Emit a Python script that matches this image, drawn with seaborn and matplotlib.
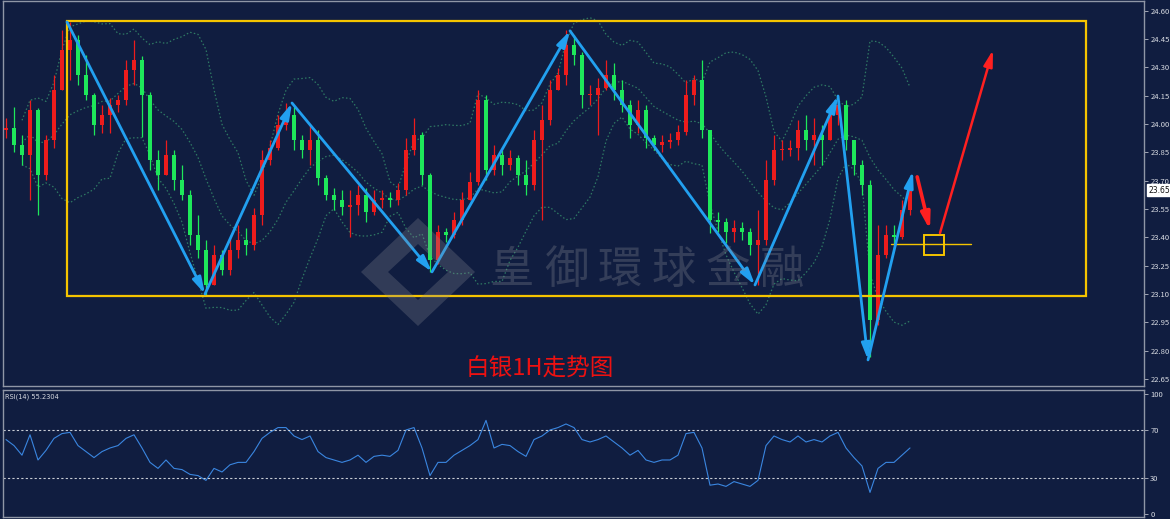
import numpy as np
import pandas as pd
import matplotlib
matplotlib.use("Agg")
import matplotlib.pyplot as plt
import matplotlib.transforms as mtransforms
from matplotlib.path import Path
from matplotlib.patches import PathPatch, Rectangle
import seaborn as sns

sns.set_theme(style="dark")
plt.rcParams["font.family"] = ["Noto Sans CJK SC", "DejaVu Sans"]
plt.rcParams["axes.unicode_minus"] = False

# ---------------- data ----------------
first_open = 23.968
closes = [23.979, 23.889, 23.836, 24.074, 23.730, 23.915, 24.180, 24.392, 24.445, 24.260,
          24.154, 23.995, 24.048, 24.101, 24.127, 24.286, 24.339, 24.154, 23.810, 23.730,
          23.836, 23.704, 23.624, 23.413, 23.333, 23.148, 23.307, 23.227, 23.333, 23.386,
          23.360, 23.519, 23.810, 23.873, 23.995, 24.048, 23.915, 23.863, 23.915, 23.714,
          23.624, 23.598, 23.561, 23.571, 23.624, 23.534, 23.598, 23.608, 23.598, 23.651,
          23.863, 23.942, 23.730, 23.280, 23.428, 23.413, 23.492, 23.598, 23.693, 24.127,
          23.757, 23.836, 23.783, 23.820, 23.730, 23.677, 23.915, 24.021, 24.180, 24.260,
          24.418, 24.365, 24.154, 24.154, 24.191, 24.260, 24.180, 24.101, 23.995, 24.074,
          23.926, 23.889, 23.905, 23.915, 23.958, 24.154, 24.233, 23.968, 23.492, 23.481,
          23.428, 23.450, 23.428, 23.360, 23.386, 23.704, 23.863, 23.863, 23.873, 23.968,
          23.915, 23.942, 23.915, 24.048, 24.101, 23.915, 23.783, 23.677, 22.963, 23.307,
          23.413, 23.400, 23.545, 23.651]
highs = [24.032, 24.090, 23.942, 24.127, 24.085, 23.942, 24.260, 24.498, 24.540, 24.471,
         24.365, 24.165, 24.101, 24.138, 24.154, 24.339, 24.445, 24.360, 24.170, 23.863,
         23.915, 23.863, 23.783, 23.651, 23.519, 23.386, 23.360, 23.333, 23.397, 23.466,
         23.450, 23.556, 23.863, 23.915, 24.048, 24.111, 24.090, 23.942, 23.995, 23.968,
         23.730, 23.661, 23.651, 23.651, 23.677, 23.661, 23.651, 23.651, 23.640, 23.688,
         23.926, 24.032, 23.960, 23.741, 23.466, 23.450, 23.534, 23.640, 23.746, 24.180,
         24.154, 23.889, 23.863, 23.863, 23.836, 23.810, 23.968, 24.101, 24.233, 24.297,
         24.498, 24.471, 24.380, 24.207, 24.244, 24.339, 24.323, 24.233, 24.127, 24.127,
         24.101, 23.942, 23.942, 23.953, 23.995, 24.233, 24.260, 24.339, 23.968, 23.534,
         23.503, 23.492, 23.481, 23.450, 23.545, 23.810, 23.942, 23.915, 23.915, 24.021,
         24.048, 24.032, 23.995, 24.101, 24.148, 24.127, 23.915, 23.810, 23.704, 23.466,
         23.466, 23.466, 23.598, 23.704]
lows = [23.926, 23.852, 23.783, 23.598, 23.519, 23.704, 23.873, 24.180, 24.233, 24.207,
        24.127, 23.942, 23.953, 23.953, 24.064, 24.101, 24.207, 23.931, 23.757, 23.651,
        23.730, 23.651, 23.598, 23.360, 23.291, 23.095, 23.148, 23.201, 23.201, 23.291,
        23.307, 23.333, 23.466, 23.783, 23.863, 23.968, 23.863, 23.820, 23.783, 23.677,
        23.598, 23.545, 23.519, 23.402, 23.519, 23.481, 23.520, 23.556, 23.561, 23.571,
        23.624, 23.836, 23.677, 23.217, 23.260, 23.376, 23.397, 23.466, 23.598, 23.677,
        23.704, 23.730, 23.730, 23.757, 23.677, 23.624, 23.651, 23.492, 23.995, 24.180,
        24.207, 24.313, 24.085, 24.101, 23.942, 24.180, 24.127, 24.064, 23.926, 23.953,
        23.873, 23.863, 23.852, 23.873, 23.889, 23.942, 24.101, 23.926, 23.423, 23.428,
        23.370, 23.376, 23.386, 23.307, 23.148, 23.360, 23.677, 23.810, 23.831, 23.810,
        23.863, 23.783, 23.783, 23.915, 23.995, 23.863, 23.730, 23.624, 22.767, 22.936,
        23.291, 23.360, 23.390, 23.519]
rsi_values = [62, 57, 49, 66, 45, 53, 63, 67, 68, 57, 52, 47, 52, 55, 57, 63, 66, 55, 43, 38,
              45, 38, 37, 33, 32, 28, 38, 35, 41, 43, 43, 52, 63, 68, 72, 72, 65, 62, 65, 52,
              47, 45, 43, 45, 49, 43, 48, 49, 48, 53, 70, 72, 55, 32, 43, 43, 49, 53, 57, 62,
              78, 55, 58, 57, 52, 48, 62, 65, 70, 72, 75, 72, 62, 60, 62, 65, 60, 55, 49, 53,
              45, 43, 45, 45, 49, 67, 68, 55, 24, 25, 23, 27, 25, 23, 28, 57, 65, 62, 60, 65,
              60, 62, 60, 65, 68, 55, 47, 40, 18, 38, 43, 43, 49, 55]

price_ticks = [22.65, 22.80, 22.95, 23.10, 23.25, 23.40, 23.55, 23.70, 23.85,
               24.00, 24.15, 24.30, 24.45, 24.60]
rsi_ticks = [0, 30, 70, 100]
rsi_levels = [30, 70]
last_price = 23.65
rsi_label = "RSI(14) 55.2304"
title_text = "白银1H走势图"
watermark = "皇御環球金融"

# analyst drawings (candle index, price)
zigzag_x = [7.625, 24.875, 35.75, 53.25, 70.5, 93.625, 104.0, 107.75, 113.375]
zigzag_y = [24.540, 23.100, 24.111, 23.217, 24.493, 23.148, 24.148, 22.751, 23.751]
forecast_x = [(113.9, 115.5), (116.75, 123.375)]
forecast_y = [(23.720, 23.439), (23.423, 24.392)]
range_x = (7.625, 135.0)
range_y = (23.090, 24.545)
target_x = (114.75, 117.25)
target_y = (23.307, 23.413)
support_x = (110.6, 120.6)
support_y = 23.365

# ---------------- style ----------------
BG = "#101d40"
UP = "#ee1c1c"
DOWN = "#1ee85a"
BAND = "#2f7a64"
BLUE = "#22a0f0"
RED = "#ff2020"
YEL = "#f5c400"
SPINE = "#8f96a6"
TXT = "#d8dbe2"

W, H = 1170, 519
fig = plt.figure(figsize=(W / 100, H / 100), dpi=100, facecolor=BG)
ax = fig.add_axes([3 / W, 1 - 386 / H, 1141 / W, 385 / H])
axr = fig.add_axes([3 / W, 2 / H, 1141 / W, 127 / H])

for a in (ax, axr):
    a.set_facecolor(BG)
    a.grid(False)
    for s in a.spines.values():
        s.set_color(SPINE)
        s.set_linewidth(1.0)
        s.set_visible(True)
    a.set_xlim(-0.375, 142.25)
    a.tick_params(axis="x", bottom=False, labelbottom=False)
    a.yaxis.tick_right()
    a.tick_params(axis="y", right=True, left=False, direction="out", length=3,
                  width=0.6, color="#b8bcc6", labelsize=5.5, labelcolor=TXT, pad=1.5)

# ---------------- candles ----------------
n = len(closes)
df = pd.DataFrame({"idx": np.arange(n), "close": closes, "high": highs, "low": lows})
df["open"] = [first_open] + closes[:-1]
up = df["close"] >= df["open"]
cols = np.where(up, UP, DOWN)
ax.vlines(df["idx"], df["low"], df["high"], colors=cols, lw=0.9, zorder=3)
body = (df["close"] - df["open"]).abs().clip(lower=0.004)
ax.bar(df["idx"], body, bottom=np.minimum(df["open"], df["close"]), width=0.45,
       color=cols, linewidth=0, zorder=3)

# Bollinger bands
mid = df["close"].rolling(10, min_periods=3).mean()
sd = df["close"].rolling(10, min_periods=3).std(ddof=0)
for line in (mid, mid + 2 * sd, mid - 2 * sd):
    sns.lineplot(x=df["idx"], y=line, ax=ax, color=BAND, lw=0.9,
                 linestyle=(0, (1.2, 1.8)), zorder=2)

ax.set_ylim(22.613, 24.651)
ax.set_yticks(price_ticks)
ax.set_yticklabels([f"{v:.2f}" for v in price_ticks])
ax.set_xlabel("")
ax.set_ylabel("")

# range box
ax.add_patch(Rectangle((range_x[0], range_y[0]), range_x[1] - range_x[0],
                       range_y[1] - range_y[0], fill=False, ec=YEL, lw=1.6, zorder=5))
# support line + target box
ax.plot(support_x, [support_y, support_y], color=YEL, lw=1.0, zorder=5)
ax.add_patch(Rectangle((target_x[0], target_y[0]), target_x[1] - target_x[0],
                       target_y[1] - target_y[0], fill=False, ec=YEL, lw=1.4, zorder=6))

# zigzag arrows
for i in range(len(zigzag_x) - 1):
    ax.annotate("", xy=(zigzag_x[i + 1], zigzag_y[i + 1]), xytext=(zigzag_x[i], zigzag_y[i]),
                arrowprops=dict(arrowstyle="-|>,head_length=0.8,head_width=0.22", color=BLUE,
                                lw=2.0, shrinkA=0, shrinkB=0), zorder=7)
for (x0, x1), (y0, y1), lw in zip(forecast_x, forecast_y, (2.6, 1.8)):
    ax.annotate("", xy=(x1, y1), xytext=(x0, y0),
                arrowprops=dict(arrowstyle="-|>,head_length=0.8,head_width=0.22", color=RED,
                                lw=lw, shrinkA=0, shrinkB=0), zorder=7)

# current price tag
trans = mtransforms.blended_transform_factory(ax.transAxes, ax.transData)
ax.text(1.004, last_price, f"{last_price:.2f}", transform=trans, fontsize=5.5, color="#111",
        va="center", ha="left", family="DejaVu Sans",
        bbox=dict(boxstyle="square,pad=0.15", fc="white", ec="white"), zorder=10,
        clip_on=False)

# watermark logo (decorative)
def fp(px, py):
    return (px / W, 1 - py / H)

outer = [fp(361, 272), fp(418, 218), fp(475, 272), fp(418, 326), fp(361, 272)]
inner = [fp(388, 272), fp(418, 244), fp(448, 272), fp(418, 300), fp(388, 272)]
verts = outer + inner[::-1]
codes = ([Path.MOVETO] + [Path.LINETO] * 3 + [Path.CLOSEPOLY]) * 2
fig.patches.append(PathPatch(Path(verts, codes), transform=fig.transFigure,
                             fc="#8a8c96", ec="none", alpha=0.28, zorder=1))
for k, ch in enumerate(watermark):
    fig.text((512 + k * 54) / W, 1 - 270 / H, ch, fontsize=32, color="#8a8c96",
             alpha=0.3, ha="center", va="center", family="Noto Sans CJK SC")

# title
fig.text(540 / W, 1 - 369 / H, title_text, fontsize=17, color="#ee1111",
         ha="center", va="center", family=["Noto Sans CJK SC", "DejaVu Sans"])

# ---------------- RSI ----------------
sns.lineplot(x=df["idx"], y=rsi_values, ax=axr, color="#3a86e0", lw=0.8)
for lv in rsi_levels:
    axr.axhline(lv, color="#c8ccd4", lw=0.8, linestyle=(0, (2, 2)))
axr.set_ylim(-2.5, 103.3)
axr.set_yticks(rsi_ticks)
axr.set_yticklabels([str(v) for v in rsi_ticks])
axr.set_xlabel("")
axr.set_ylabel("")
axr.text(0.002, 0.97, rsi_label, transform=axr.transAxes, fontsize=4.8, color=TXT,
         ha="left", va="top", family="DejaVu Sans")

fig.savefig("out.png", dpi=100, facecolor=BG)
